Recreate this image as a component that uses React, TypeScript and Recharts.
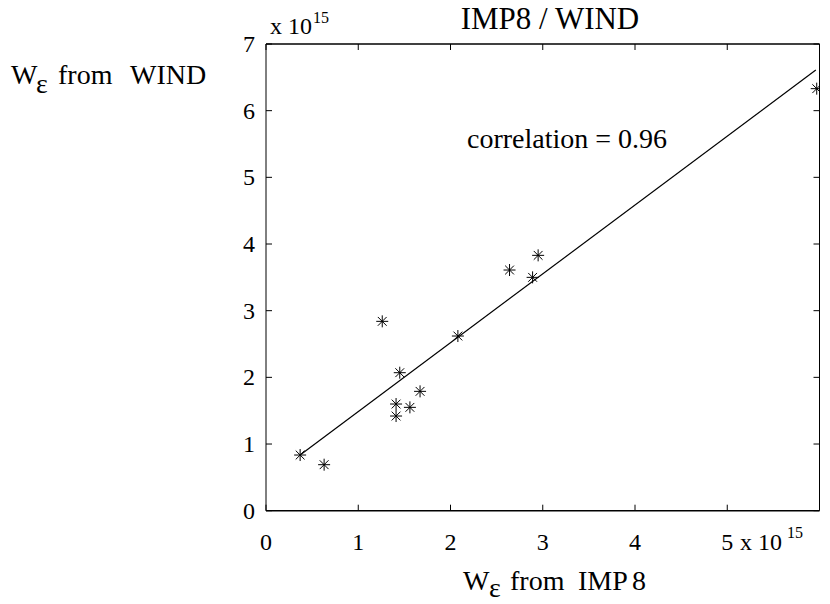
import React from 'react';
import {
  ScatterChart, Scatter, XAxis, YAxis,
} from 'recharts';

// W_eps values, units of 1e15
const impValues = [0.37, 0.63, 1.26, 2.08, 1.45, 1.67, 1.41, 1.56, 1.41, 2.64, 2.95, 2.89, 5.97];
const windValues = [0.835, 0.69, 2.84, 2.62, 2.07, 1.79, 1.60, 1.55, 1.42, 3.61, 3.83, 3.50, 6.33];
const fitX = [0.37, 5.96];
const fitY = [0.835, 6.61];
const xTicks = [0, 1, 2, 3, 4, 5];
const yTicks = [0, 1, 2, 3, 4, 5, 6, 7];

const points = impValues.map((x, i) => ({ x, y: windValues[i] }));
const fitLine = fitX.map((x, i) => ({ x, y: fitY[i] }));

const FONT = '"Liberation Serif", "Times New Roman", serif';
const TICK_LEN = 6;
const TICK_FONT = 24;

const Asterisk = (props: any) => {
  const { cx, cy } = props;
  const r = 6;
  const d = 4.4;
  return (
    <g stroke="#000" strokeWidth={1}>
      <line x1={cx - r} y1={cy} x2={cx + r} y2={cy} />
      <line x1={cx} y1={cy - r} x2={cx} y2={cy + r} />
      <line x1={cx - d} y1={cy - d} x2={cx + d} y2={cy + d} />
      <line x1={cx - d} y1={cy + d} x2={cx + d} y2={cy - d} />
    </g>
  );
};

const BottomTick = (props: any) => {
  const { x, y, payload } = props;
  return (
    <g>
      <line x1={x} y1={y} x2={x} y2={y - TICK_LEN} stroke="#000" />
      <text x={x} y={y + 39} textAnchor="middle" fontFamily={FONT} fontSize={TICK_FONT} fill="#000">
        {payload.value}
      </text>
    </g>
  );
};

const LeftTick = (props: any) => {
  const { x, y, payload } = props;
  return (
    <g>
      <line x1={x} y1={y} x2={x + TICK_LEN} y2={y} stroke="#000" />
      <text x={x - 11} y={y + 8} textAnchor="end" fontFamily={FONT} fontSize={TICK_FONT} fill="#000">
        {payload.value}
      </text>
    </g>
  );
};

const TopTick = (props: any) => {
  const { x, y } = props;
  return <line x1={x} y1={y} x2={x} y2={y + TICK_LEN} stroke="#000" />;
};

const RightTick = (props: any) => {
  const { x, y } = props;
  return <line x1={x} y1={y} x2={x - TICK_LEN} y2={y} stroke="#000" />;
};

export default function App() {
  return (
    <div style={{ position: 'absolute', left: 0, top: 0, width: 830, height: 604, background: '#fff' }}>
      <ScatterChart
        width={830}
        height={604}
        margin={{ top: 43, right: 9.5, bottom: 53.3, left: 226 }}
      >
        <XAxis
          type="number"
          dataKey="x"
          xAxisId="bottom"
          domain={[0, 6]}
          ticks={xTicks}
          height={40}
          tickSize={0}
          tickMargin={0}
          tickLine={false}
          axisLine={{ stroke: '#000', strokeWidth: 1.5 }}
          tick={<BottomTick />}
          interval={0}
          allowDataOverflow
        />
        <XAxis
          type="number"
          dataKey="x"
          xAxisId="top"
          orientation="top"
          domain={[0, 6]}
          ticks={xTicks}
          height={1}
          tickSize={0}
          tickMargin={0}
          tickLine={false}
          axisLine={{ stroke: '#000', strokeWidth: 1.5 }}
          tick={<TopTick />}
          interval={0}
          allowDataOverflow
        />
        <YAxis
          type="number"
          dataKey="y"
          yAxisId="left"
          domain={[0, 7]}
          ticks={yTicks}
          width={40}
          tickSize={0}
          tickMargin={0}
          tickLine={false}
          axisLine={{ stroke: '#000', strokeWidth: 1 }}
          tick={<LeftTick />}
          interval={0}
          allowDataOverflow
        />
        <YAxis
          type="number"
          dataKey="y"
          yAxisId="right"
          orientation="right"
          domain={[0, 7]}
          ticks={yTicks}
          width={1}
          tickSize={0}
          tickMargin={0}
          tickLine={false}
          axisLine={{ stroke: '#000', strokeWidth: 1 }}
          tick={<RightTick />}
          interval={0}
          allowDataOverflow
        />
        <Scatter
          data={fitLine}
          xAxisId="bottom"
          yAxisId="left"
          line={{ stroke: '#000', strokeWidth: 1.2 }}
          shape={() => <g />}
          isAnimationActive={false}
        />
        <Scatter
          data={points}
          xAxisId="bottom"
          yAxisId="left"
          shape={<Asterisk />}
          isAnimationActive={false}
        />
      </ScatterChart>

      <svg
        width={830}
        height={604}
        style={{ position: 'absolute', left: 0, top: 0, pointerEvents: 'none' }}
        fontFamily={FONT}
        fill="#000"
      >
        <text x={550} y={29} fontSize={31} textAnchor="middle">IMP8 / WIND</text>

        <text x={270} y={34} fontSize={24}>x 10</text>
        <text x={313} y={23} fontSize={16}>15</text>
        <text x={740} y={550} fontSize={24}>x 10</text>
        <text x={787} y={538} fontSize={16}>15</text>

        <text x={467} y={148} fontSize={28}>correlation = 0.96</text>

        <text y={84} fontSize={28}>
          <tspan x={11}>W</tspan>
          <tspan x={36} dy={9}>ε</tspan>
          <tspan x={58} dy={-9}>from</tspan>
          <tspan x={130}>WIND</tspan>
        </text>
        <text y={590} fontSize={28}>
          <tspan x={463}>W</tspan>
          <tspan x={489} dy={7}>ε</tspan>
          <tspan x={510} dy={-7}>from</tspan>
          <tspan x={578}>IMP</tspan>
          <tspan x={632}>8</tspan>
        </text>
      </svg>
    </div>
  );
}
